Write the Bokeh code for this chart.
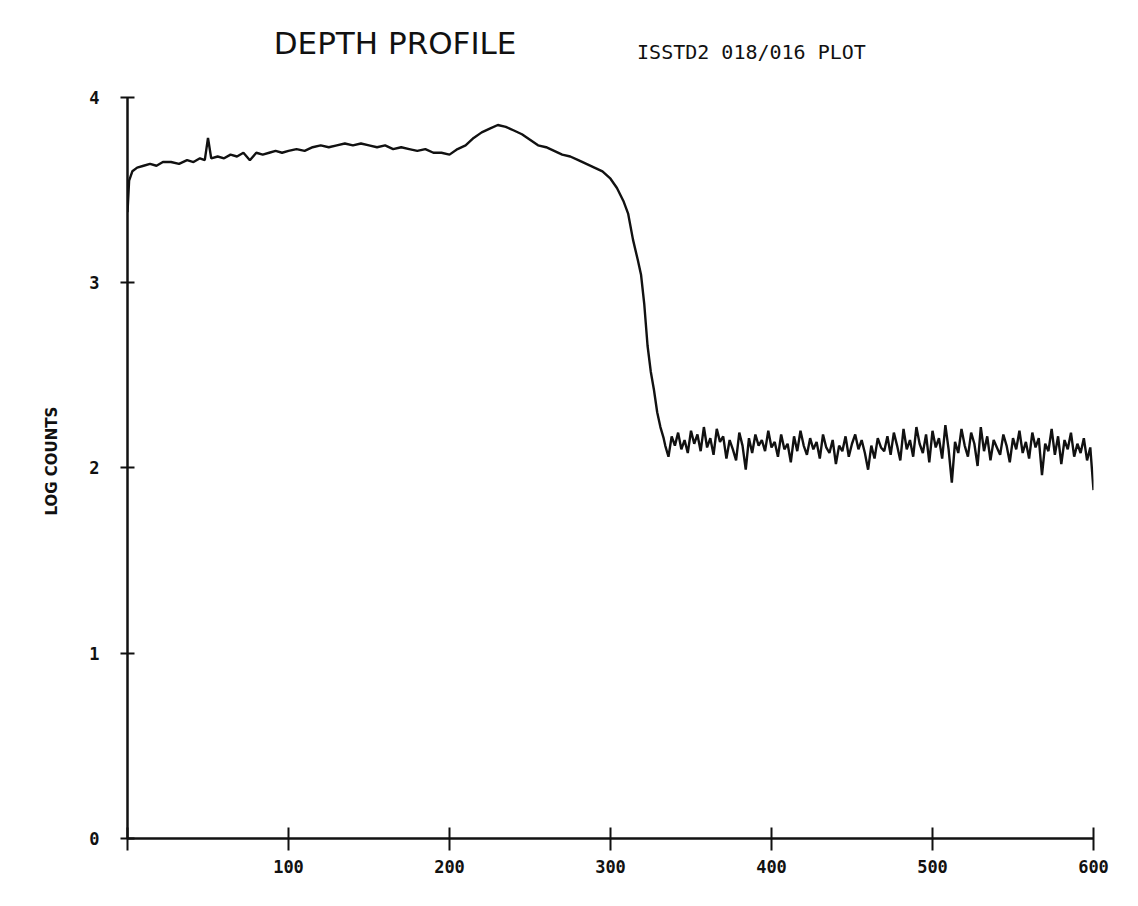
import numpy as np
from bokeh.plotting import figure
from bokeh.models import Label, Range1d, FixedTicker, Title
from bokeh.embed import file_html
from bokeh.resources import INLINE

title_text = "DEPTH PROFILE"
subtitle_text = "ISSTD2 018/016 PLOT"
y_axis_title = "LOG COUNTS"
x_ticks = [0, 100, 200, 300, 400, 500, 600]
x_tick_labels = ["", "100", "200", "300", "400", "500", "600"]
y_ticks = [0, 1, 2, 3, 4]
y_tick_labels = ["0", "1", "2", "3", "4"]

# surface layer, plateau, peak and the fall-off
surface_depth = [0, 1, 3, 6, 10, 14, 18, 22, 27, 32, 37, 41, 45, 48, 50, 52, 56, 60,
                 64, 68, 72, 76, 80, 84, 88, 92, 96, 100, 105, 110, 115, 120, 125,
                 130, 135, 140, 145, 150, 155, 160, 165, 170, 175, 180, 185, 190,
                 195, 200, 205, 210, 215, 220, 225, 230, 235, 240, 245, 250, 255,
                 260, 265, 270, 275, 280, 285, 290, 295, 300, 304, 308, 311, 314,
                 317, 319, 321, 323, 325, 327, 329, 331, 333, 334]
surface_log_counts = [3.38, 3.55, 3.60, 3.62, 3.63, 3.64, 3.63, 3.65, 3.65, 3.64, 3.66,
                      3.65, 3.67, 3.66, 3.78, 3.67, 3.68, 3.67, 3.69, 3.68, 3.70, 3.66,
                      3.70, 3.69, 3.70, 3.71, 3.70, 3.71, 3.72, 3.71, 3.73, 3.74, 3.73,
                      3.74, 3.75, 3.74, 3.75, 3.74, 3.73, 3.74, 3.72, 3.73, 3.72, 3.71,
                      3.72, 3.70, 3.70, 3.69, 3.72, 3.74, 3.78, 3.81, 3.83, 3.85, 3.84,
                      3.82, 3.80, 3.77, 3.74, 3.73, 3.71, 3.69, 3.68, 3.66, 3.64, 3.62,
                      3.60, 3.56, 3.51, 3.44, 3.37, 3.23, 3.12, 3.04, 2.88, 2.66, 2.52,
                      2.42, 2.30, 2.22, 2.16, 2.12]

# substrate background (every 2 units of depth)
substrate_depth = list(range(336, 601, 2))
substrate_log_counts = [
    2.06, 2.17, 2.12, 2.19, 2.10, 2.15, 2.08, 2.20, 2.13, 2.18,
    2.09, 2.22, 2.11, 2.16, 2.07, 2.21, 2.14, 2.17, 2.05, 2.15,
    2.10, 2.04, 2.19, 2.12, 1.99, 2.16, 2.08, 2.18, 2.12, 2.15,
    2.09, 2.20, 2.11,
    2.14, 2.06, 2.18, 2.10, 2.13, 2.03, 2.17, 2.09, 2.20, 2.12,
    2.07, 2.16, 2.10, 2.14, 2.05, 2.18, 2.11, 2.08, 2.15, 2.02,
    2.12, 2.09, 2.17, 2.06, 2.13, 2.18, 2.10, 2.15, 2.08, 1.99,
    2.12, 2.05, 2.16, 2.11, 2.09,
    2.17, 2.07, 2.19, 2.12, 2.04, 2.21, 2.10, 2.15, 2.06, 2.22,
    2.13, 2.08, 2.18, 2.03, 2.20, 2.11, 2.16, 2.05, 2.23, 2.10,
    1.92, 2.14, 2.08, 2.21, 2.12, 2.06, 2.19, 2.13, 2.01, 2.22,
    2.09, 2.17, 2.04, 2.15, 2.11, 2.07, 2.18, 2.12, 2.03, 2.16,
    2.10, 2.20, 2.08, 2.14, 2.05, 2.19, 2.11, 2.16, 1.96, 2.13,
    2.09, 2.21, 2.07, 2.17, 2.02, 2.15, 2.10, 2.19, 2.06, 2.13,
    2.08, 2.16, 2.04, 2.11, 1.88]

depth = surface_depth + substrate_depth
log_counts = surface_log_counts + substrate_log_counts

# y range extends above the axis (bounded to 0..4) to leave room for the headings
Y_TOP = 4.5
p = figure(width=1138, height=906, x_range=Range1d(0, 600), y_range=Range1d(0, Y_TOP),
           output_backend="svg", toolbar_location=None,
           min_border_left=127, min_border_right=45, min_border_top=4, min_border_bottom=68)
p.grid.visible = False
p.outline_line_color = None
p.background_fill_color = "white"
p.border_fill_color = "white"

p.line(depth, log_counts, line_width=2.4, line_color="#111111")

tick_font = "DejaVu Sans Mono"

xa = p.xaxis[0]
xa.ticker = FixedTicker(ticks=x_ticks)
xa.major_label_overrides = {t: l for t, l in zip(x_ticks, x_tick_labels)}
xa.minor_tick_line_color = None
xa.major_tick_in = 11
xa.major_tick_out = 12
xa.axis_line_width = 2.5
xa.axis_line_color = "#111111"
xa.major_tick_line_width = 2
xa.major_tick_line_color = "#111111"
xa.major_label_standoff = 9
xa.major_label_text_font = tick_font
xa.major_label_text_font_style = "bold"
xa.major_label_text_font_size = "17px"
xa.major_label_text_color = "#111111"

ya = p.yaxis[0]
ya.bounds = (0, 4)
ya.ticker = FixedTicker(ticks=y_ticks)
ya.major_label_overrides = {t: l for t, l in zip(y_ticks, y_tick_labels)}
ya.minor_tick_line_color = None
ya.major_tick_in = 7
ya.major_tick_out = 7
ya.axis_line_width = 2.5
ya.axis_line_color = "#111111"
ya.major_tick_line_width = 2
ya.major_tick_line_color = "#111111"
ya.major_label_standoff = 21
ya.major_label_text_font = tick_font
ya.major_label_text_font_style = "bold"
ya.major_label_text_font_size = "17px"
ya.major_label_text_color = "#111111"

# y-axis title, placed along the bounded 0..4 axis rather than the taller frame
p.add_layout(Title(text=y_axis_title, align="left", offset=323, standoff=51,
                   text_font="DejaVu Sans", text_font_style="bold",
                   text_font_size="15px", text_color="#111111"), "left")

p.add_layout(Label(x=90.8, y=4.293, text=title_text, text_font="DejaVu Sans",
                   text_font_size="31px", text_color="#111111",
                   text_baseline="middle"))
p.add_layout(Label(x=316.5, y=4.242, text=subtitle_text, text_font="DejaVu Sans Mono",
                   text_font_size="20px", text_color="#111111",
                   text_baseline="middle"))

open("out.html", "w").write(file_html(p, INLINE))
